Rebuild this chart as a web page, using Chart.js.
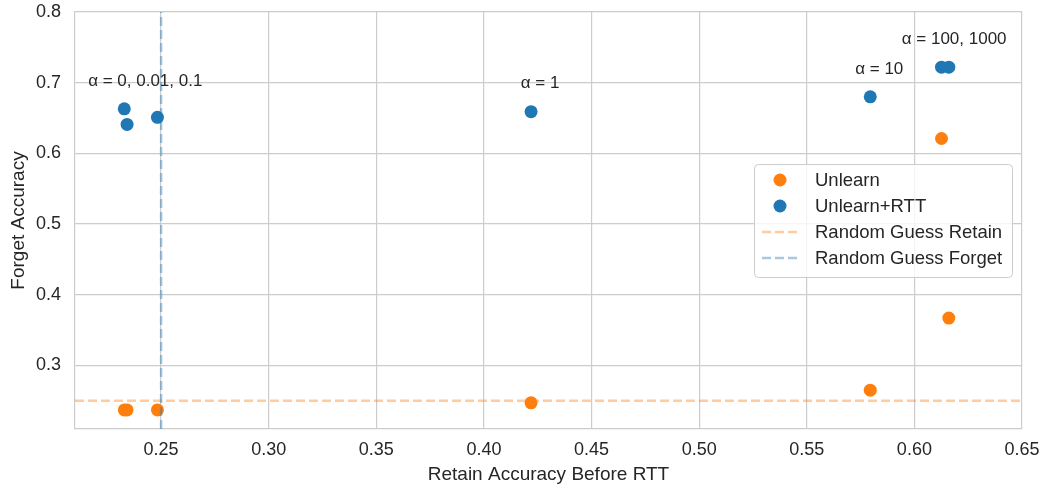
<!DOCTYPE html>
<html>
<head>
<meta charset="utf-8">
<script src="https://cdn.jsdelivr.net/npm/chart.js@4/dist/chart.umd.min.js"></script>
<style>
  html, body { margin: 0; padding: 0; background: #fff; }
  #wrap { width: 1042px; height: 487px; }
</style>
</head>
<body>
<div id="wrap"><canvas id="scatter"></canvas></div>
<script>
// Data
const retainAcc = [0.2329, 0.2342, 0.2483, 0.4219, 0.5795, 0.6126, 0.6160];
const unlearnForget = [0.237, 0.237, 0.237, 0.247, 0.265, 0.621, 0.367];
const rttForget = [0.663, 0.641, 0.651, 0.659, 0.680, 0.722, 0.722];
const alphaLabels = ['α = 0, 0.01, 0.1', 'α = 1', 'α = 10', 'α = 100, 1000'];
const alphaGroups = [[0, 1, 2], [3], [4], [5, 6]];
const randomGuess = 0.25;
const xTicks = [0.25, 0.30, 0.35, 0.40, 0.45, 0.50, 0.55, 0.60, 0.65];
const yTicks = [0.3, 0.4, 0.5, 0.6, 0.7, 0.8];
const xMin = 0.21, xMax = 0.65, yMin = 0.21, yMax = 0.8;

const colors = {
    orange: '#ff7f0e',
    blue: '#1f77b4',
    orangeFaint: 'rgba(255, 127, 14, 0.4)',
    blueFaint: 'rgba(31, 119, 180, 0.4)',
    grid: '#cccccc',
    text: '#262626'
};
const FONT = "'Liberation Sans', Arial, sans-serif";

Chart.defaults.font.family = FONT;
Chart.defaults.color = colors.text;

const toPoints = (xs, ys) => xs.map((x, i) => ({ x: x, y: ys[i] }));

// alpha labels above each group of RTT points
const annotationPlugin = {
    id: 'alphaLabels',
    afterDatasetsDraw(chart) {
        const { ctx, scales } = chart;
        ctx.save();
        ctx.font = '17px ' + FONT;
        ctx.fillStyle = colors.text;
        ctx.textAlign = 'center';
        ctx.textBaseline = 'middle';
        alphaGroups.forEach((group, i) => {
            const mx = group.reduce((s, k) => s + retainAcc[k], 0) / group.length;
            const my = Math.max(...group.map(k => rttForget[k]));
            ctx.fillText(alphaLabels[i], scales.x.getPixelForValue(mx) + 9, scales.y.getPixelForValue(my) - 28);
        });
        ctx.restore();
    }
};

// matplotlib style legend, centre right inside the axes
const legendPlugin = {
    id: 'boxLegend',
    afterDraw(chart) {
        const { ctx, chartArea } = chart;
        const w = 258, h = 113;
        const bx = chartArea.right - 10 - w;
        const by = (chartArea.top + chartArea.bottom) / 2 - h / 2;
        ctx.save();
        ctx.beginPath();
        ctx.roundRect(bx + 0.5, by + 0.5, w, h, 4);
        ctx.fillStyle = 'rgba(255,255,255,0.8)';
        ctx.fill();
        ctx.strokeStyle = colors.grid;
        ctx.lineWidth = 1;
        ctx.stroke();

        ctx.font = '18.5px ' + FONT;
        ctx.textBaseline = 'middle';
        ctx.textAlign = 'left';
        chart.data.datasets.forEach((ds, i) => {
            const ry = by + 16 + i * 26;
            if (ds.showLine) {
                ctx.beginPath();
                ctx.setLineDash(ds.borderDash);
                ctx.strokeStyle = ds.borderColor;
                ctx.lineWidth = ds.borderWidth;
                ctx.moveTo(bx + 8, ry);
                ctx.lineTo(bx + 46, ry);
                ctx.stroke();
                ctx.setLineDash([]);
            } else {
                ctx.beginPath();
                ctx.arc(bx + 26, ry, 6.5, 0, Math.PI * 2);
                ctx.fillStyle = ds.backgroundColor;
                ctx.fill();
            }
            ctx.fillStyle = colors.text;
            ctx.fillText(ds.label, bx + 61, ry + 1);
        });
        ctx.restore();
    }
};

new Chart(document.getElementById('scatter'), {
    type: 'scatter',
    data: {
        datasets: [
            {
                label: 'Unlearn',
                data: toPoints(retainAcc, unlearnForget),
                backgroundColor: colors.orange,
                borderWidth: 0,
                pointRadius: 6.5,
                order: 4
            },
            {
                label: 'Unlearn+RTT',
                data: toPoints(retainAcc, rttForget),
                backgroundColor: colors.blue,
                borderWidth: 0,
                pointRadius: 6.5,
                order: 3
            },
            {
                label: 'Random Guess Retain',
                data: [{ x: xMin, y: randomGuess }, { x: xMax, y: randomGuess }],
                showLine: true,
                borderColor: colors.orangeFaint,
                borderWidth: 2.5,
                borderDash: [9, 4],
                pointRadius: 0,
                order: 2
            },
            {
                label: 'Random Guess Forget',
                data: [{ x: randomGuess, y: yMin }, { x: randomGuess, y: yMax }],
                showLine: true,
                borderColor: colors.blueFaint,
                borderWidth: 2.5,
                borderDash: [9, 4],
                pointRadius: 0,
                order: 1
            }
        ]
    },
    options: {
        responsive: true,
        maintainAspectRatio: false,
        animation: false,
        layout: { padding: { top: 12, right: 20, left: 0, bottom: 0 } },
        scales: {
            x: {
                type: 'linear',
                min: xMin,
                max: xMax,
                afterBuildTicks: s => { s.ticks = xTicks.map(v => ({ value: v })); },
                afterFit: s => { s.height = 58; s.paddingLeft = 0; s.paddingRight = 0; },
                grid: { color: colors.grid, lineWidth: 1.2, drawTicks: false },
                border: { color: colors.grid, width: 1.2 },
                ticks: {
                    padding: 10,
                    maxRotation: 0,
                    font: { size: 18 },
                    callback: v => v.toFixed(2)
                },
                title: {
                    display: true,
                    text: 'Retain Accuracy Before RTT',
                    font: { size: 19 },
                    padding: { top: 0, bottom: 1 }
                }
            },
            y: {
                type: 'linear',
                min: yMin,
                max: yMax,
                afterBuildTicks: s => { s.ticks = yTicks.map(v => ({ value: v })); },
                afterFit: s => { s.width = 75; s.paddingTop = 0; s.paddingBottom = 0; },
                grid: { color: colors.grid, lineWidth: 1.2, drawTicks: false },
                border: { color: colors.grid, width: 1.2 },
                ticks: {
                    padding: 14,
                    font: { size: 18 },
                    callback: v => v.toFixed(1)
                },
                title: {
                    display: true,
                    text: 'Forget Accuracy',
                    font: { size: 19 },
                    padding: { top: 7, bottom: 0 }
                }
            }
        },
        plugins: {
            legend: { display: false },
            tooltip: { enabled: false }
        }
    },
    plugins: [annotationPlugin, legendPlugin]
});
</script>
</body>
</html>
